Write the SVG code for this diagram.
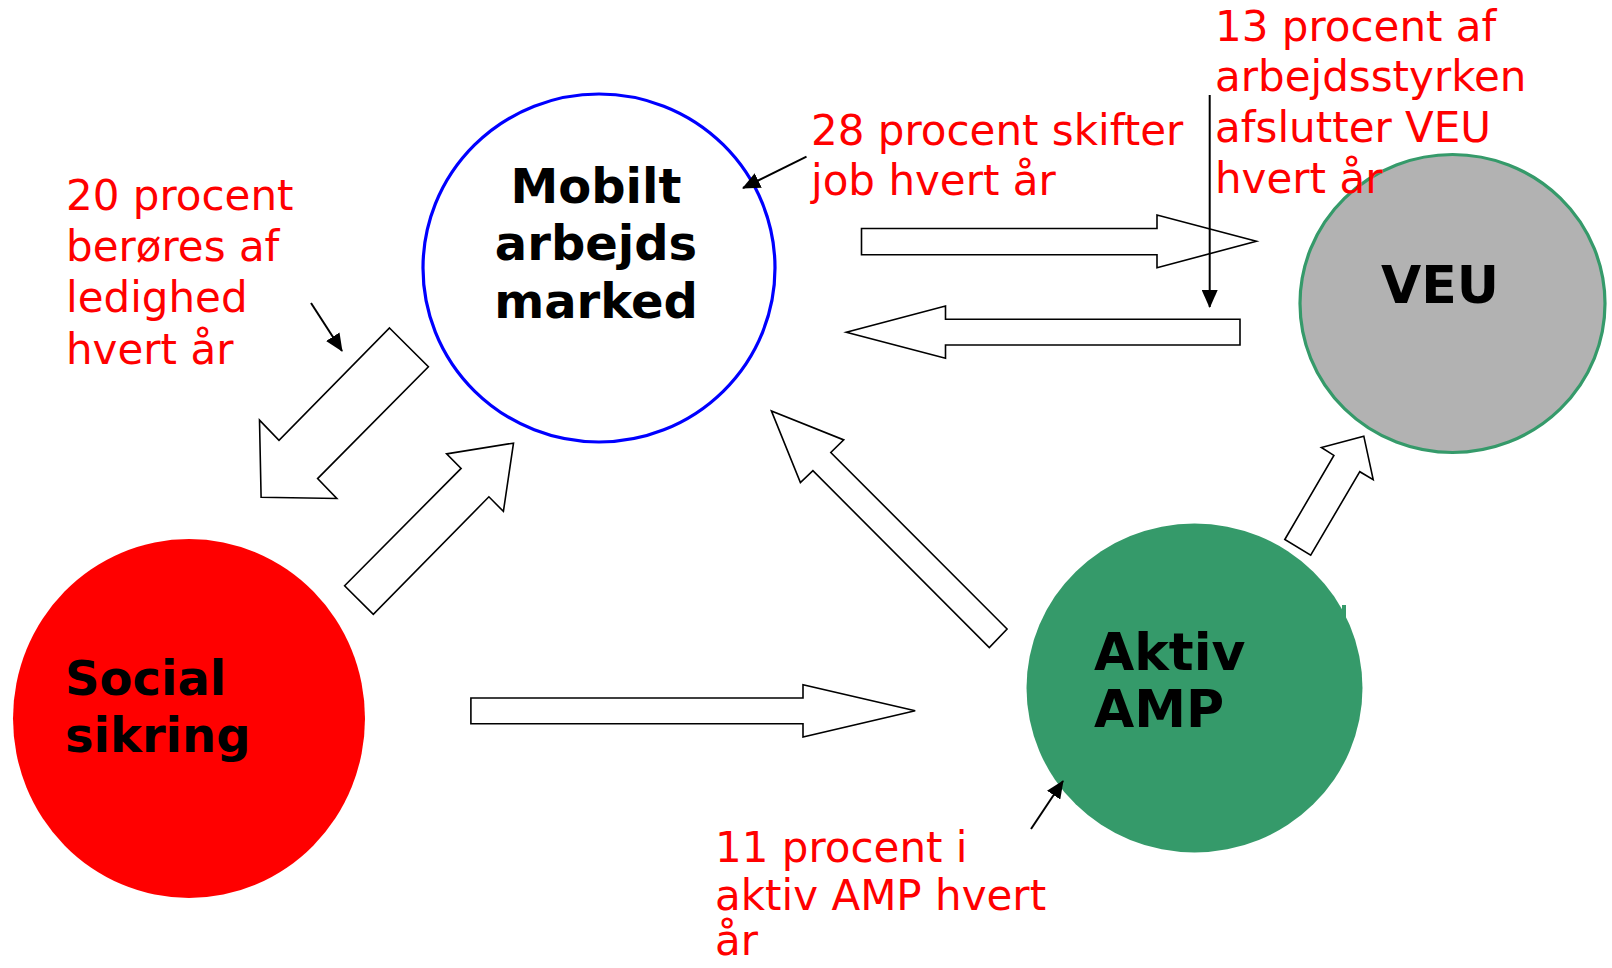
<svg xmlns="http://www.w3.org/2000/svg" width="1612" height="968" viewBox="0 0 1612 968">
<defs>
<marker id="ah" markerUnits="userSpaceOnUse" markerWidth="18" markerHeight="16" viewBox="0 0 18 16" refX="17" refY="8" orient="auto">
<path d="M0,0 L18,8 L0,16 Z" fill="#000"/>
</marker>
<style>
.blk{fill:#fff;stroke:#000;stroke-width:1.6;stroke-linejoin:miter}
.ptr{stroke:#000;stroke-width:2;fill:none}
.lbl{font-family:"DejaVu Sans","Verdana",sans-serif;font-weight:bold;font-size:48px;fill:#000}
.red{font-family:"DejaVu Sans","Verdana",sans-serif;font-size:42px;fill:#ff0000}
</style>
</defs>
<rect width="1612" height="968" fill="#fff"/>

<g id="node-mobilt">
<ellipse cx="599" cy="268" rx="176" ry="174" fill="#fff" stroke="#0000ff" stroke-width="3.2"/>
<text class="lbl" text-anchor="middle" x="596" y="203">Mobilt</text>
<text class="lbl" text-anchor="middle" x="596" y="260">arbejds</text>
<text class="lbl" text-anchor="middle" x="596" y="318">marked</text>
</g>

<g id="node-veu">
<ellipse cx="1452.5" cy="303.5" rx="152.5" ry="149" fill="#b2b2b2" stroke="#359a6a" stroke-width="3.2"/>
<text class="lbl" text-anchor="middle" x="1440" y="303" style="font-size:52px">VEU</text>
</g>

<g id="node-social">
<ellipse cx="189" cy="718.5" rx="176" ry="179.5" fill="#ff0000"/>
<text class="lbl" x="65" y="695">Social</text>
<text class="lbl" x="65" y="752">sikring</text>
</g>

<g id="node-aktiv">
<ellipse cx="1194.5" cy="688" rx="168" ry="164.5" fill="#359a6a"/>
<rect x="1342" y="605" width="4" height="13" fill="#359a6a"/>
<text class="lbl" x="1094" y="670" style="font-size:52px">Aktiv</text>
<text class="lbl" x="1094" y="727" style="font-size:52px">AMP</text>
</g>

<g id="connectors">
<polygon class="blk" points="861.5,228.5 1157,228.5 1157,215 1256.4,241.3 1157,267.7 1157,254.7 861.5,254.7"/>
<polygon class="blk" points="1240,319.3 945.5,319.3 945.5,306 846.3,332.3 945.5,358.3 945.5,345 1240,345"/>
<polygon class="blk" points="389.5,328 428.4,366.8 317.6,478.6 336.8,498.5 261.1,497.2 259.5,420.1 279,440.4"/>
<polygon class="blk" points="344.6,585.7 461.1,468.4 446.6,453.9 513.5,443.1 503.4,511.4 488.9,496.8 373.3,614.4"/>
<polygon class="blk" points="1007.1,629 830.8,452.5 843.75,439.9 771.4,410.9 800.4,482.6 812.9,470.7 989.3,647.5"/>
<polygon class="blk" points="1284.8,539.5 1333.9,455.4 1321.4,447.5 1363.8,436.2 1373.2,479.7 1359.8,471.7 1310.7,555.1"/>
<polygon class="blk" points="470.9,698 803,698 803,684.7 915.2,710.7 803,737 803,723.7 470.9,723.7"/>
<line class="ptr" x1="1209.7" y1="95" x2="1209.7" y2="307" marker-end="url(#ah)"/>
<line class="ptr" x1="806.5" y1="156.7" x2="743" y2="188" marker-end="url(#ah)"/>
<line class="ptr" x1="311" y1="303" x2="342" y2="351" marker-end="url(#ah)"/>
<line class="ptr" x1="1031" y1="829" x2="1063" y2="781" marker-end="url(#ah)"/>
</g>

<g id="labels">
<text class="red" x="66" y="210">20 procent</text>
<text class="red" x="66" y="261">berøres af</text>
<text class="red" x="66" y="312">ledighed</text>
<text class="red" x="66" y="364">hvert år</text>

<text class="red" x="811" y="145">28 procent skifter</text>
<text class="red" x="811" y="195">job hvert år</text>

<text class="red" x="1215" y="41">13 procent af</text>
<text class="red" x="1215" y="91">arbejdsstyrken</text>
<text class="red" x="1215" y="142">afslutter VEU</text>
<text class="red" x="1215" y="193">hvert år</text>

<text class="red" x="715" y="862">11 procent i</text>
<text class="red" x="715" y="910">aktiv AMP hvert</text>
<text class="red" x="715" y="955">år</text>
</g>
</svg>
